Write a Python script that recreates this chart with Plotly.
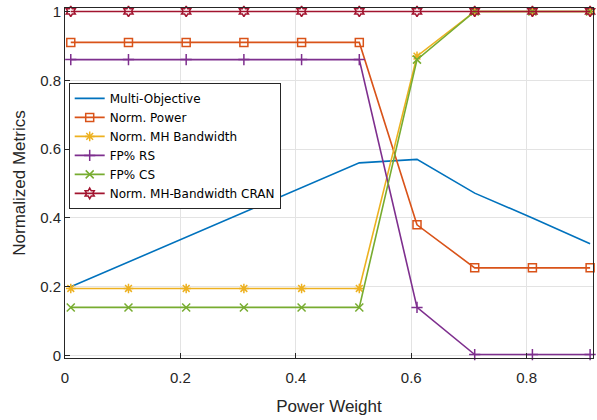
import plotly.graph_objects as go

power_weight = [0.01, 0.11, 0.21, 0.31, 0.41, 0.51, 0.61, 0.71, 0.81, 0.91]
multi_objective = [0.2, 0.272, 0.344, 0.416, 0.488, 0.56, 0.57, 0.472, 0.40, 0.325]
norm_power = [0.91, 0.91, 0.91, 0.91, 0.91, 0.91, 0.38, 0.255, 0.255, 0.255]
norm_mh_bw = [0.195, 0.195, 0.195, 0.195, 0.195, 0.195, 0.87, 1.0, 1.0, 1.0]
fp_rs = [0.86, 0.86, 0.86, 0.86, 0.86, 0.86, 0.14, 0.003, 0.003, 0.003]
fp_cs = [0.14, 0.14, 0.14, 0.14, 0.14, 0.14, 0.86, 1.0, 1.0, 1.0]
norm_mh_bw_cran = [1.0] * 10

x_ticks = [0, 0.2, 0.4, 0.6, 0.8]
y_ticks = [0, 0.2, 0.4, 0.6, 0.8, 1]

series = [
    ("Multi-Objective", multi_objective, "#0072BD", None),
    ("Norm. Power", norm_power, "#D95319", "square-open"),
    ("Norm. MH Bandwidth", norm_mh_bw, "#EDB120", "asterisk-open"),
    ("FP% RS", fp_rs, "#7E2F8E", "cross-thin-open"),
    ("FP% CS", fp_cs, "#77AC30", "x-thin-open"),
    ("Norm. MH-Bandwidth CRAN", norm_mh_bw_cran, "#A2142F", "hexagram-open"),
]

fig = go.Figure()
for name, vals, color, sym in series:
    if sym is None:
        fig.add_trace(go.Scatter(x=power_weight, y=vals, name=name, mode="lines",
                                 line=dict(color=color, width=1.6), cliponaxis=False))
    else:
        fig.add_trace(go.Scatter(x=power_weight, y=vals, name=name, mode="lines+markers",
                                 line=dict(color=color, width=1.6), cliponaxis=False,
                                 marker=dict(symbol=sym, size=8, color=color,
                                             line=dict(color=color, width=1.5))))

axis_common = dict(
    showgrid=True, gridcolor="#e3e3e3", gridwidth=1,
    showline=True, linecolor="#262626", linewidth=1, mirror=True,
    ticks="inside", ticklen=5, tickcolor="#262626",
    zeroline=False, automargin=False,
    tickfont=dict(family="Liberation Sans, Arial", size=15, color="#262626"),
)

fig.update_layout(
    width=597, height=420,
    margin=dict(l=65, r=4, t=8, b=62),
    paper_bgcolor="white", plot_bgcolor="white",
    font=dict(family="Liberation Sans, Arial", color="#262626"),
    xaxis=dict(range=[0, 0.915], tickvals=x_ticks, ticktext=[str(v) for v in x_ticks],
               ticklabelstandoff=6,
               title=dict(text="Power Weight", font=dict(size=17), standoff=15), **axis_common),
    yaxis=dict(range=[-0.007, 1.01], tickvals=y_ticks, ticktext=[str(v) for v in y_ticks],
               title=dict(text="Normalized Metrics", font=dict(size=17), standoff=10), **axis_common),
    legend=dict(x=0.007, y=0.786, xanchor="left", yanchor="top",
                bgcolor="white", bordercolor="#262626", borderwidth=1,
                font=dict(family="DejaVu Sans", size=12, color="#000000"), tracegroupgap=0,
                itemwidth=30),
    showlegend=True,
)

fig.write_html("out.html", config={"displayModeBar": False},
               post_script="document.body.style.margin='0';document.body.style.overflow='hidden';")
